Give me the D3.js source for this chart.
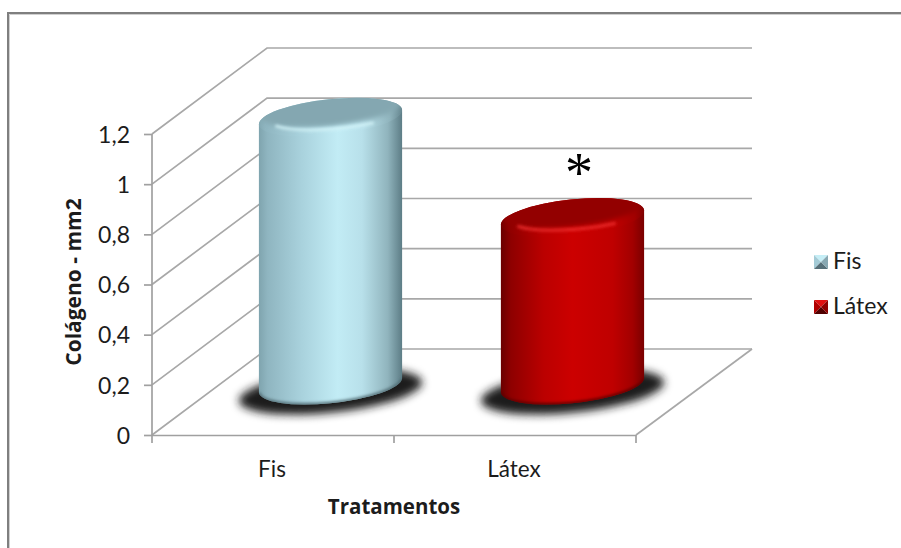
<!DOCTYPE html>
<html>
<head>
<meta charset="utf-8">
<script src="https://cdn.jsdelivr.net/npm/d3@7/dist/d3.min.js"></script>
<style>
html,body{margin:0;padding:0;background:#fff;}
svg{display:block;}
text{font-family:Lato,"Open Sans",sans-serif;fill:#1c1c1c;}
</style>
</head>
<body>
<svg id="chart" width="901" height="548"></svg>
<script>
// Chart values
const categories = ["Fis", "Látex"];
const colageno = [1.07, 0.67];
const yTicks = [0, 0.2, 0.4, 0.6, 0.8, 1, 1.2];
const yTitle = "Colágeno - mm2";
const xTitle = "Tratamentos";
const marker = "*";

const svg = d3.select("#chart");
const W = 901, H = 548;

// Front plane scales and the depth vector of the 3-D box
const x = d3.scaleBand().domain(categories).range([152, 636]);
const y = d3.scaleLinear().domain([0, 1.2]).range([435, 134]);
const depth = {dx: 115, dy: -86};
const barDepth = {dx: 0.5, dy: 0.575};
const rx = 72, ry = 18, tilt = -6;

const palettes = {
  "Fis": {
    side: [[0,"#7fa4ae"],[0.06,"#8fb5c0"],[0.3,"#a9d2dd"],[0.55,"#c2ecf5"],[0.72,"#b8e0ea"],[0.9,"#90b4bd"],[1,"#5d7d86"]],
    cap: "#84a7b1", rim: "#d8f8fc", floorEdge: "#4f6a72",
    sw: ["#c6eef6","#a4cbd6","#566f78","#88a8b2"]
  },
  "Látex": {
    side: [[0,"#6a0000"],[0.07,"#8e0000"],[0.3,"#bb0000"],[0.5,"#cc0000"],[0.78,"#bf0000"],[0.92,"#a20000"],[1,"#7a0000"]],
    cap: "#930000", rim: "#f23030", floorEdge: "#5c0000",
    sw: ["#e01010","#b00000","#500000","#8e0000"]
  }
};

const defs = svg.append("defs");
const soft = (id, s) => defs.append("filter").attr("id", id)
  .attr("x", "-20%").attr("y", "-60%").attr("width", "140%").attr("height", "220%")
  .append("feGaussianBlur").attr("stdDeviation", s);
soft("blurShadow", 4);
soft("blurCap", 2.4);
soft("blurRim", 1.5);
soft("blurEdge", 1.6);

// Outer frame of the chart area
svg.append("path").attr("d", `M8,${H}V13H${W}`).attr("fill", "none").attr("stroke", "#7f7f7f").attr("stroke-width", 2);
svg.append("path").attr("d", `M9.5,${H}V14.5H${W}`).attr("fill", "none").attr("stroke", "#d0d0d0").attr("stroke-width", 1);

// Walls and floor
const grid = svg.append("g").attr("fill", "none").attr("stroke", "#a8a8a8").attr("stroke-width", 1.7);
const [xa, xb] = x.range();
grid.selectAll("path.wall").data(yTicks).join("path").attr("class", "wall")
  .attr("d", v => `M${xa},${y(v)}L${xa + depth.dx},${y(v) + depth.dy}H${xb + depth.dx + 1}`);
grid.append("path")
  .attr("d", `M${xb},${y(0)}L${xb + depth.dx + 1},${y(0) + depth.dy}`);

// Vertical axis
const yAxis = d3.axisLeft(y).tickValues(yTicks).tickSize(8).tickPadding(14)
  .tickFormat(v => String(v).replace(".", ","));
const yG = svg.append("g").attr("transform", `translate(${xa},0)`).call(yAxis);
yG.selectAll("line").attr("stroke", "#a0a0a0").attr("stroke-width", 1.7);
yG.select(".domain").attr("stroke", "#a0a0a0").attr("stroke-width", 1.7).attr("d", `M0,${y(1.2)}V${y(0) + 8}`);
yG.selectAll("text").style("font-size", "23px").style("font-family", "Lato,sans-serif").attr("fill", "#1c1c1c").attr("dy", "0.36em");

// Horizontal axis: ticks sit on the category boundaries, labels in their centres
const xG = svg.append("g").attr("fill", "none").attr("stroke", "#a0a0a0").attr("stroke-width", 1.7);
xG.append("path").attr("d", `M${xa},${y(0) + 0.5}H${xb}`);
const edges = categories.map(c => x(c) + x.bandwidth());
xG.selectAll("line").data(edges).join("line")
  .attr("x1", d => d).attr("x2", d => d)
  .attr("y1", y(0)).attr("y2", y(0) + 8);
svg.append("g").selectAll("text").data(categories).join("text")
  .attr("x", c => x(c) + x.bandwidth() / 2 - 1)
  .attr("y", 477)
  .attr("text-anchor", "middle")
  .style("font-size", "22.5px")
  .text(c => c);

// Cylinders
const xEnd = 71.6, yEnd = 7;
const rimArc = d3.lineRadial().curve(d3.curveCatmullRom);
const bars = svg.append("g").selectAll("g").data(categories.map((c, i) => ({c, v: colageno[i], i}))).join("g");
bars.each(function(d) {
  const g = d3.select(this), p = palettes[d.c];
  const cx = x(d.c) + x.bandwidth() / 2 + depth.dx * barDepth.dx;
  const by = y(0) + depth.dy * barDepth.dy;
  const ty = by - (y(0) - y(d.v));
  const id = "side" + d.i;
  const lg = defs.append("linearGradient").attr("id", id);
  lg.selectAll("stop").data(p.side).join("stop")
    .attr("offset", s => s[0]).attr("stop-color", s => s[1]);

  // Contact shadow on the floor
  g.append("ellipse").attr("cx", cx).attr("cy", by + 6).attr("rx", rx + 20).attr("ry", ry + 3)
    .attr("transform", `rotate(${tilt} ${cx} ${by + 6})`)
    .attr("fill", "#1d1d1d").attr("filter", "url(#blurShadow)");

  // Side wall
  const body = `M${cx - xEnd},${ty + yEnd}L${cx - xEnd},${by + yEnd}` +
    `A${rx},${ry} ${tilt} 0 0 ${cx + xEnd},${by - yEnd}L${cx + xEnd},${ty - yEnd}` +
    `A${rx},${ry} ${tilt} 0 0 ${cx - xEnd},${ty + yEnd}Z`;
  g.append("path").attr("d", body).attr("fill", `url(#${id})`);

  // Darker line along the foot of the wall
  const foot = `M${cx - xEnd},${by + yEnd}A${rx},${ry} ${tilt} 0 0 ${cx + xEnd},${by - yEnd}`;
  const clipB = "clipBody" + d.i;
  defs.append("clipPath").attr("id", clipB).append("path").attr("d", body);
  g.append("g").attr("clip-path", `url(#${clipB})`).append("path").attr("d", foot)
    .attr("fill", "none").attr("stroke", p.floorEdge).attr("stroke-width", 3).attr("filter", "url(#blurEdge)");

  // Top face: darker inner cap, then a bright streak on the bevel of the near edge
  const clipT = "clipTop" + d.i;
  defs.append("clipPath").attr("id", clipT).append("ellipse")
    .attr("cx", cx).attr("cy", ty).attr("rx", rx).attr("ry", ry)
    .attr("transform", `rotate(${tilt} ${cx} ${ty})`);
  const top = g.append("g").attr("clip-path", `url(#${clipT})`);
  top.append("rect").attr("x", cx - rx - 2).attr("y", ty - 30).attr("width", 2 * rx + 4).attr("height", 60)
    .attr("fill", `url(#${id})`);
  top.append("ellipse").attr("cx", cx).attr("cy", ty - 8).attr("rx", rx - 1).attr("ry", ry - 1)
    .attr("transform", `rotate(${tilt} ${cx} ${ty - 8})`)
    .attr("fill", p.cap).attr("filter", "url(#blurCap)");
  const streak = `M${cx - 54},${ty + 9}A${rx - 2},${ry - 3} ${tilt} 0 0 ${cx + 42},${ty + 6}`;
  g.append("path").attr("d", streak).attr("fill", "none").attr("stroke", p.rim)
    .attr("stroke-width", 3).attr("stroke-linecap", "round").attr("opacity", 0.8)
    .attr("filter", "url(#blurRim)");
});

// Significance marker over the second cylinder
svg.append("text").attr("x", 579).attr("y", 192)
  .attr("text-anchor", "middle")
  .style("font-family", "'Liberation Serif',serif")
  .style("font-size", "56px")
  .style("fill", "#000")
  .text(marker);

// Axis titles
svg.append("text").attr("transform", "translate(81,282) rotate(-90)")
  .attr("text-anchor", "middle").style("font-size", "21px").style("font-weight", 700)
  .style("font-family", "'Open Sans',sans-serif")
  .text(yTitle);
svg.append("text").attr("x", 394).attr("y", 514)
  .attr("text-anchor", "middle").style("font-size", "20.5px").style("font-weight", 700)
  .style("font-family", "'Open Sans',sans-serif")
  .text(xTitle);

// Legend
const legendY = d3.scalePoint().domain(categories).range([262, 307]);
const legend = svg.append("g").selectAll("g").data(categories).join("g")
  .attr("transform", c => `translate(814,${legendY(c) - 7})`);
const s = 14;
const tris = [
  `M0,0H${s}L${s / 2},${s / 2}Z`,
  `M0,0V${s}L${s / 2},${s / 2}Z`,
  `M0,${s}H${s}L${s / 2},${s / 2}Z`,
  `M${s},0V${s}L${s / 2},${s / 2}Z`
];
legend.each(function(c) {
  d3.select(this).selectAll("path").data(tris).join("path")
    .attr("d", t => t).attr("fill", (t, i) => palettes[c].sw[i]);
});
legend.append("text").attr("x", 19).attr("y", 14)
  .style("font-size", "23px").text(c => c);
</script>
</body>
</html>
